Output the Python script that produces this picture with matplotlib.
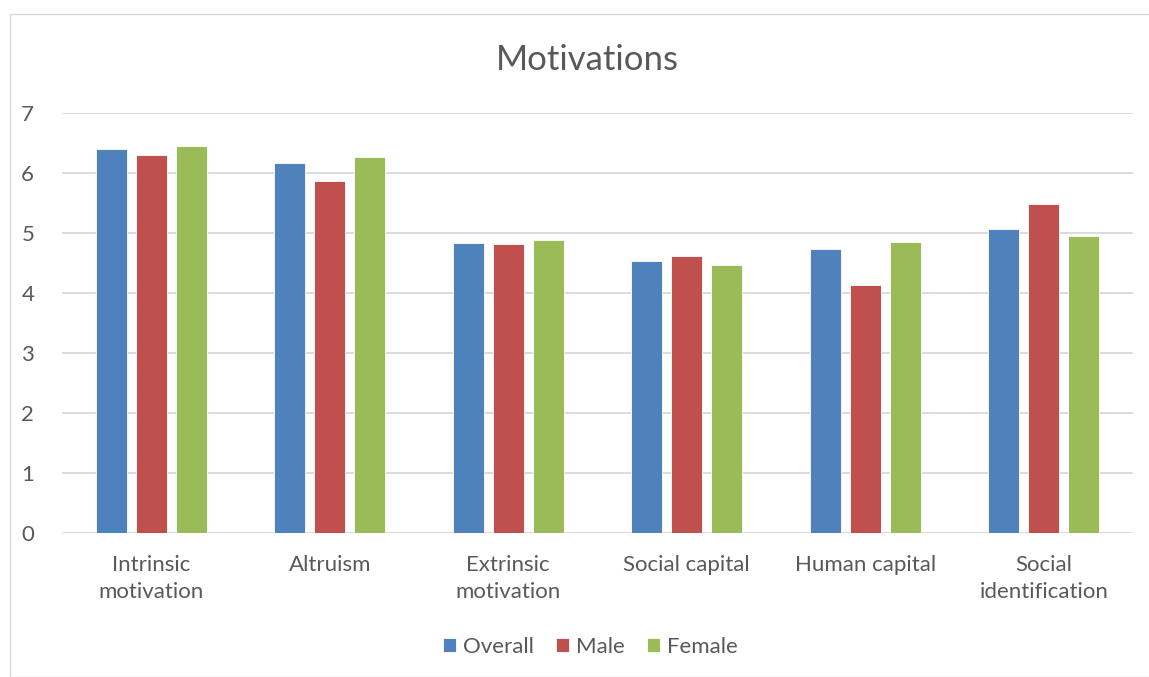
import matplotlib
matplotlib.use("Agg")
import matplotlib.pyplot as plt
import numpy as np
from matplotlib.patches import Rectangle

categories = ["Intrinsic\nmotivation", "Altruism", "Extrinsic\nmotivation",
              "Social capital", "Human capital", "Social\nidentification"]
series_names = ["Overall", "Male", "Female"]
overall = [6.40, 6.17, 4.84, 4.53, 4.73, 5.07]
male = [6.30, 5.86, 4.82, 4.62, 4.13, 5.48]
female = [6.45, 6.27, 4.89, 4.47, 4.85, 4.95]
colors = ["#4F81BD", "#C0504D", "#9BBB59"]

text_color = "#595959"
plt.rcParams["font.family"] = ["Lato", "DejaVu Sans"]

W, H = 1149, 677
fig = plt.figure(figsize=(W / 100, H / 100), dpi=100)

# chart-area border (light gray frame, like the office export)
fig.patches.append(Rectangle((10 / W, 0), 1.2, (H - 14) / H, transform=fig.transFigure,
                             fill=False, edgecolor="#D9D9D9", linewidth=1.0))

ax = fig.add_axes([62 / W, (H - 533) / H, (1133 - 62) / W, (533 - 113) / H])

x = np.arange(len(categories))
step = 0.224
width = 0.174
for i, (vals, name) in enumerate(zip([overall, male, female], series_names)):
    ax.bar(x + (i - 1) * step, vals, width, color=colors[i], label=name,
           edgecolor="white", linewidth=0.6, zorder=3)

ax.set_xlim(-0.5, len(categories) - 0.5)
ax.set_ylim(0, 7)
ax.set_yticks(range(0, 8))
ax.yaxis.grid(True, color="#D9D9D9", linewidth=1.3, zorder=0)
ax.set_axisbelow(True)
for s in ["top", "right", "left", "bottom"]:
    ax.spines[s].set_visible(False)
ax.tick_params(axis="both", length=0, colors=text_color, labelsize=16)
ax.tick_params(axis="y", pad=20)
ax.tick_params(axis="x", pad=16)
ax.set_xticks(x)
ax.set_xticklabels(categories, linespacing=1.45)
ax.axhline(0, color="#D9D9D9", linewidth=1.3, zorder=1)

fig.text(587 / W, 1 - 60 / H, "Motivations", ha="center", va="center",
         fontsize=25, color=text_color)

leg = fig.legend(loc="center", bbox_to_anchor=(590 / W, 1 - 647 / H), ncol=3,
                 frameon=False, fontsize=16, handlelength=0.6, handleheight=0.6,
                 handletextpad=0.3, columnspacing=1.0)
for t in leg.get_texts():
    t.set_color(text_color)

fig.savefig("out.png", dpi=100)
